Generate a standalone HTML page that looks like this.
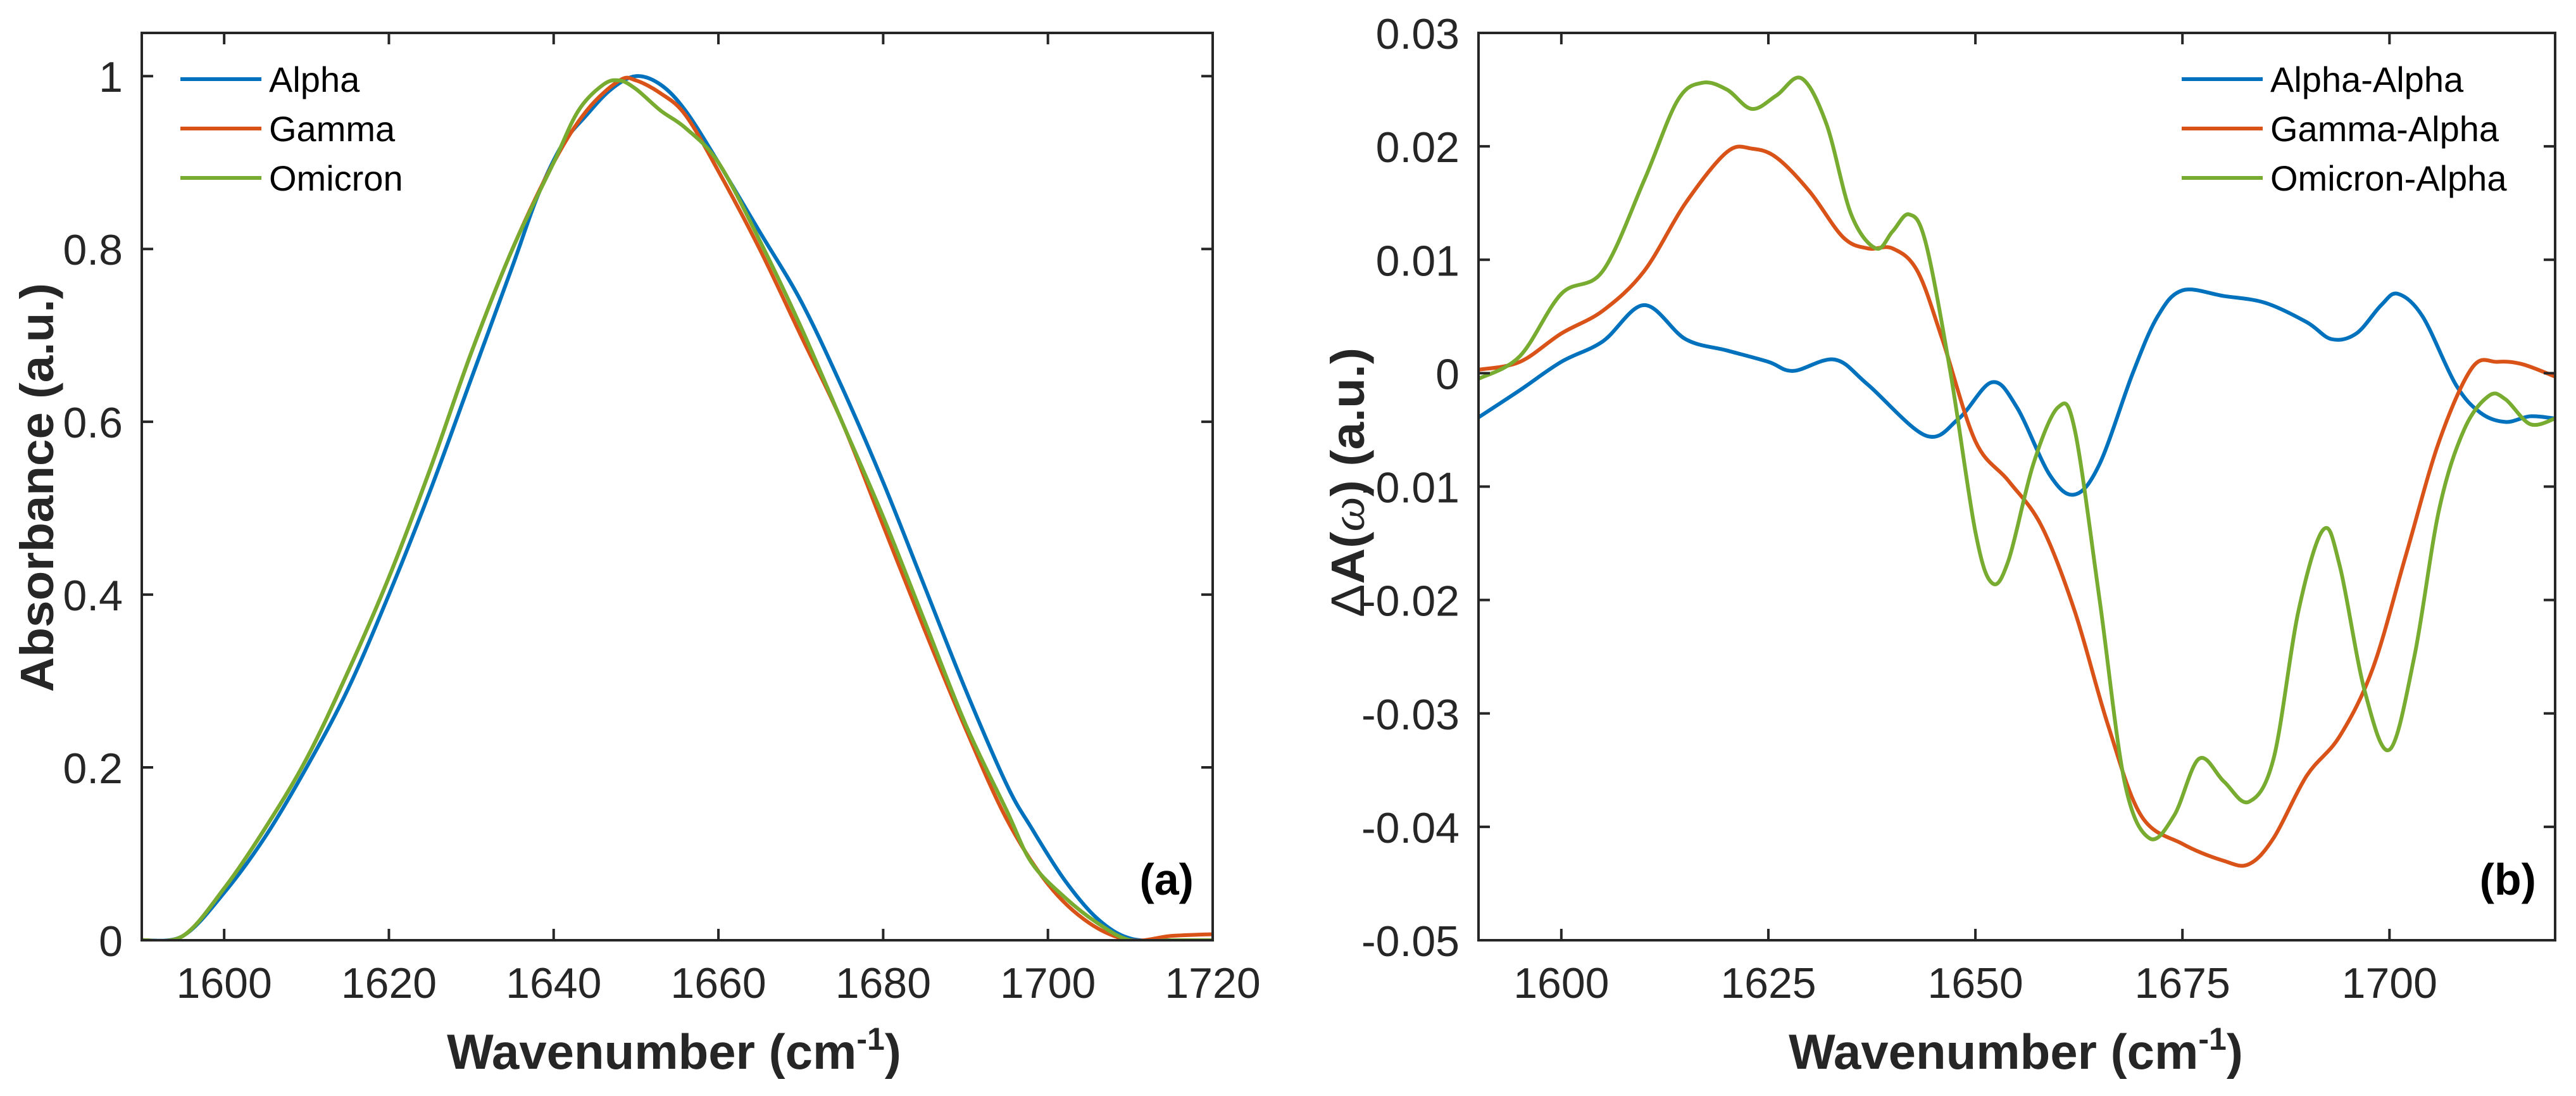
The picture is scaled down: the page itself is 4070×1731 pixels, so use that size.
<!DOCTYPE html>
<html><head><meta charset="utf-8"><style>
html,body{margin:0;padding:0;background:#fff;}
svg{display:block;font-family:"Liberation Sans",Arial,sans-serif;}
</style></head><body>
<svg id="fig" width="4070" height="1731" viewBox="0 0 4070 1731"></svg>
<script>
const absX=[1590,1595,1600,1605,1610,1615,1620,1625,1630,1635,1638,1641,1644,1647,1650,1653,1656,1660,1665,1670,1675,1680,1685,1690,1695,1698,1702,1706,1710,1715,1720];
const alphaY=[0,0.005,0.055,0.12,0.2,0.29,0.4,0.52,0.65,0.78,0.86,0.92,0.955,0.985,1.0,0.99,0.96,0.9,0.82,0.74,0.64,0.53,0.41,0.29,0.18,0.13,0.07,0.025,0.002,0,0];
const gammaX=[1590,1595,1600,1605,1610,1615,1620,1625,1630,1635,1640,1644,1648,1650,1653,1656,1660,1665,1670,1675,1680,1685,1690,1695,1700,1705,1710,1715,1720];
const gammaY=[0,0.005,0.06,0.13,0.21,0.31,0.42,0.545,0.68,0.8,0.9,0.96,0.995,0.995,0.98,0.955,0.89,0.8,0.7,0.6,0.48,0.36,0.245,0.14,0.065,0.02,0,0.005,0.007];
const omiX=[1590,1595,1600,1605,1610,1615,1620,1625,1630,1635,1640,1643,1646,1648,1650,1653,1656,1660,1665,1670,1675,1680,1685,1690,1695,1698,1702,1706,1710,1715,1720];
const omiY=[0,0.005,0.06,0.13,0.21,0.31,0.42,0.545,0.68,0.8,0.9,0.96,0.99,0.995,0.985,0.96,0.94,0.9,0.81,0.71,0.6,0.49,0.37,0.25,0.15,0.09,0.05,0.02,0,0,0];
const aaX=[1590,1595,1600,1605,1610,1615,1620,1625,1628,1633,1637,1644,1648,1652,1655,1659,1662,1665,1669,1672,1675,1680,1685,1690,1693,1696,1699,1701,1704,1708,1711,1714,1717,1720];
const aaY=[-0.0039,-0.0015,0.001,0.0028,0.006,0.003,0.002,0.001,0.0002,0.0012,-0.001,-0.0055,-0.004,-0.0008,-0.003,-0.009,-0.0107,-0.008,0,0.005,0.0073,0.0068,0.0062,0.0045,0.003,0.0035,0.006,0.007,0.005,-0.001,-0.0035,-0.0043,-0.0038,-0.004];
const gaX=[1590,1595,1600,1605,1610,1615,1620,1623,1626,1630,1634,1637,1640,1643,1646,1650,1654,1658,1662,1666,1670,1675,1680,1683,1686,1690,1694,1698,1702,1706,1710,1713,1716,1720];
const gaY=[0.0003,0.001,0.0035,0.0055,0.009,0.015,0.0195,0.0198,0.019,0.016,0.012,0.011,0.011,0.009,0.003,-0.006,-0.0095,-0.0135,-0.021,-0.031,-0.039,-0.0415,-0.043,-0.0433,-0.041,-0.0355,-0.032,-0.026,-0.016,-0.006,0.0005,0.001,0.0008,-0.0003];
const oaX=[1590,1595,1600,1605,1610,1614,1617,1620,1623,1626,1629,1632,1635,1638,1640,1642,1644,1647,1650,1652,1654,1657,1660,1662,1665,1668,1671,1674,1677,1680,1683,1686,1689,1692,1694,1697,1700,1703,1706,1709,1712,1714,1717,1720];
const oaY=[-0.0005,0.0015,0.007,0.009,0.017,0.024,0.0256,0.025,0.0233,0.0245,0.026,0.022,0.014,0.011,0.0125,0.014,0.0115,0,-0.014,-0.0185,-0.0165,-0.008,-0.003,-0.005,-0.02,-0.036,-0.041,-0.039,-0.034,-0.036,-0.0378,-0.034,-0.021,-0.0138,-0.017,-0.028,-0.0332,-0.025,-0.012,-0.005,-0.002,-0.0023,-0.0045,-0.004];
const leftXTicks=[1600,1620,1640,1660,1680,1700,1720];
const leftYTicks=[0,0.2,0.4,0.6,0.8,1];
const leftYLabels=["0","0.2","0.4","0.6","0.8","1"];
const rightXTicks=[1600,1625,1650,1675,1700];
const rightYTicks=[-0.05,-0.04,-0.03,-0.02,-0.01,0,0.01,0.02,0.03];
const rightYLabels=["-0.05","-0.04","-0.03","-0.02","-0.01","0","0.01","0.02","0.03"];

const NS="http://www.w3.org/2000/svg";
const svg=document.getElementById('fig');
function mk(tag,attrs,parent){const e=document.createElementNS(NS,tag);for(const k in attrs)e.setAttribute(k,attrs[k]);(parent||svg).appendChild(e);return e;}
function smooth(pts){let d=`M${pts[0][0]},${pts[0][1]}`;for(let i=0;i<pts.length-1;i++){const p0=pts[Math.max(0,i-1)],p1=pts[i],p2=pts[i+1],p3=pts[Math.min(pts.length-1,i+2)];const c1=[p1[0]+(p2[0]-p0[0])/6,p1[1]+(p2[1]-p0[1])/6],c2=[p2[0]-(p3[0]-p1[0])/6,p2[1]-(p3[1]-p1[1])/6];d+=` C${c1[0]},${c1[1]} ${c2[0]},${c2[1]} ${p2[0]},${p2[1]}`;}return d;}

function panel(cfg){
  const g=mk('g',{});
  
  
  const sx=v=>cfg.x0+(v-cfg.xmin)/(cfg.xmax-cfg.xmin)*(cfg.x1-cfg.x0);
  const sy=v=>cfg.y1-(v-cfg.ymin)/(cfg.ymax-cfg.ymin)*(cfg.y1-cfg.y0);
  const clip=mk('clipPath',{id:cfg.name+'-clip'},g);
  mk('rect',{x:cfg.x0,y:cfg.y0,width:cfg.x1-cfg.x0,height:cfg.y1-cfg.y0},clip);
  const series=cfg.series;
  series.forEach(s=>{
    const pts=s.x.map((xv,i)=>[sx(xv),sy(s.y[i])]);
    const p=mk('path',{d:smooth(pts),fill:'none',stroke:s.color,'stroke-width':6,'clip-path':`url(#${cfg.name}-clip)`,'stroke-linejoin':'round'},g);
    
    
  });
  const box=mk('rect',{x:cfg.x0,y:cfg.y0,width:cfg.x1-cfg.x0,height:cfg.y1-cfg.y0,fill:'none',stroke:'#262626','stroke-width':4},g);
  
  
  cfg.xticks.forEach(t=>{
    const X=sx(t);
    mk('line',{x1:X,x2:X,y1:cfg.y1,y2:cfg.y1-18,stroke:'#262626','stroke-width':4},g);
    mk('line',{x1:X,x2:X,y1:cfg.y0,y2:cfg.y0+18,stroke:'#262626','stroke-width':4},g);
    const tx=mk('text',{x:X,y:1576,'font-size':68,'text-anchor':'middle',fill:'#262626'},g);
    tx.textContent=String(t);
    
    
  });
  cfg.yticks.forEach((t,i)=>{
    const Y=sy(t);
    mk('line',{x1:cfg.x0,x2:cfg.x0+18,y1:Y,y2:Y,stroke:'#262626','stroke-width':4},g);
    mk('line',{x1:cfg.x1,x2:cfg.x1-18,y1:Y,y2:Y,stroke:'#262626','stroke-width':4},g);
    const tx=mk('text',{x:cfg.x0-30,y:Y+25,'font-size':68,'text-anchor':'end',fill:'#262626'},g);
    tx.textContent=cfg.ylabels[i];
    
    
  });
  series.forEach((s,i)=>{
    const Y=125+i*78;
    const l=mk('line',{x1:cfg.legX,x2:cfg.legX+128,y1:Y,y2:Y,stroke:s.color,'stroke-width':6},g);
    
    
    const tx=mk('text',{x:cfg.legX+140,y:Y+20,'font-size':56,fill:'#000'},g);
    tx.textContent=s.label;
    
    
  });
  const tag=mk('text',{x:cfg.x1-30,y:1413,'font-size':70,'font-weight':'bold','text-anchor':'end',fill:'#000'},g);
  tag.textContent=cfg.tag;
  
  
  const xl=mk('text',{x:cfg.xlabX,y:1688,'font-size':78,'font-weight':'bold','text-anchor':'middle',fill:'#262626'},g);
  xl.innerHTML='Wavenumber (cm<tspan dy="-30" font-size="50">-1</tspan><tspan dy="30">)</tspan>';
  
  
  const yl=mk('text',{x:0,y:0,'font-size':74,'font-weight':'bold','text-anchor':'middle',fill:'#262626'},g);
  yl.innerHTML=cfg.ylab;
  
  
  const len=yl.getComputedTextLength()||cfg.ylabLen;
  const k=cfg.ylabLen/len;
  yl.setAttribute('transform',`translate(${cfg.ylabX},${cfg.ylabY}) rotate(-90) scale(${k},1)`);
}
panel({name:'absorbance-panel',x0:224,x1:1916,y0:52,y1:1485,xmin:1590,xmax:1720,ymin:0,ymax:1.05,
  xticks:leftXTicks,yticks:leftYTicks,ylabels:leftYLabels,legX:285,tag:'(a)',xlabX:1065,ylabX:84,ylabY:770,ylabLen:646,ylab:'Absorbance (a.u.)',
  series:[{id:'alpha',label:'Alpha',color:'#0072BD',x:absX,y:alphaY},{id:'gamma',label:'Gamma',color:'#D95319',x:gammaX,y:gammaY},{id:'omicron',label:'Omicron',color:'#77AC30',x:omiX,y:omiY}]});
panel({name:'difference-panel',x0:2336,x1:4037,y0:52,y1:1485,xmin:1590,xmax:1720,ymin:-0.05,ymax:0.03,
  xticks:rightXTicks,yticks:rightYTicks,ylabels:rightYLabels,legX:3447,tag:'(b)',xlabX:3185,ylabX:2155,ylabY:762,ylabLen:426,
  ylab:'<tspan font-weight="normal">Δ</tspan>A(<tspan font-family="Liberation Serif" font-style="italic" font-weight="normal">ω</tspan>) (a.u.)',
  series:[{id:'alpha-alpha',label:'Alpha-Alpha',color:'#0072BD',x:aaX,y:aaY},{id:'gamma-alpha',label:'Gamma-Alpha',color:'#D95319',x:gaX,y:gaY},{id:'omicron-alpha',label:'Omicron-Alpha',color:'#77AC30',x:oaX,y:oaY}]});
</script>
</body></html>
